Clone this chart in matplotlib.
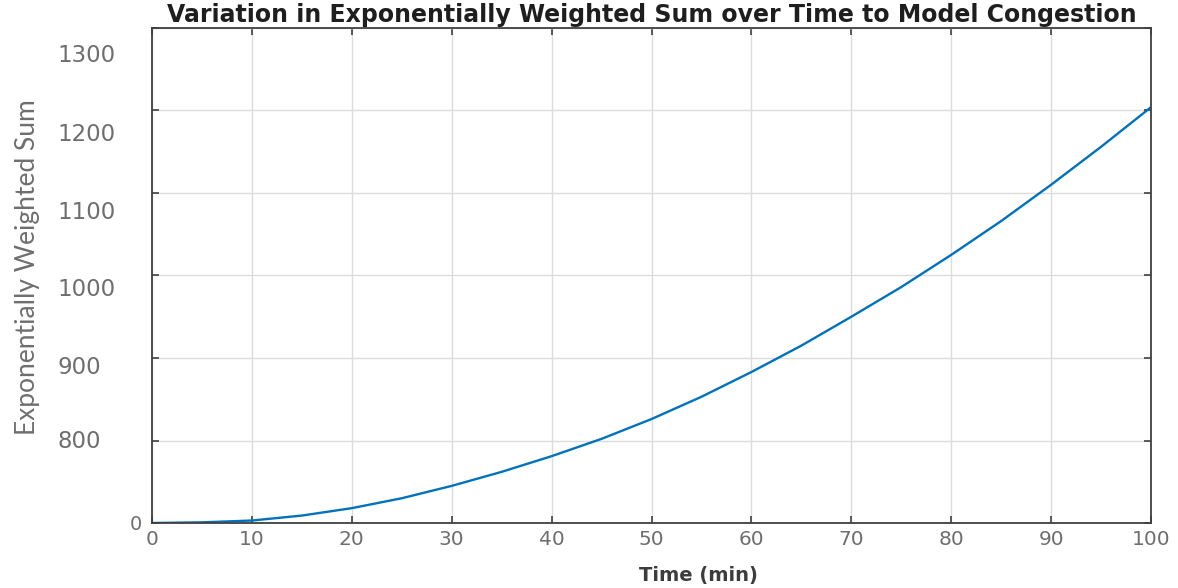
# Exponentially weighted sum over time (congestion model) -- recreated figure

import matplotlib
matplotlib.use("Agg")
import matplotlib.pyplot as plt
from matplotlib.transforms import ScaledTranslation

# data (y in axis units, the bottom of the axis is labelled "0")
time_min = [0, 5, 10, 15, 20, 25, 30, 35, 40, 45, 50,
            55, 60, 65, 70, 75, 80, 85, 90, 95, 100]
ew_sum = [700, 700.8, 703, 709, 718, 730, 745, 762, 781, 802, 826,
          853, 883, 915, 950, 986, 1025, 1066, 1110, 1156, 1204]

x_ticks = [0, 10, 20, 30, 40, 50, 60, 70, 80, 90, 100]
y_ticks = [700, 800, 900, 1000, 1100, 1200, 1300]
y_tick_labels = ["0", "800", "900", "1000", "1100", "1200", "1300"]

# the y labels in the reference sit a little below their grid lines (pixels)
label_drop_px = [0, -1, 7, 12, 17, 22, 25]

spine_col = "#404040"
gray_txt = "#6e6e6e"

fig = plt.figure(figsize=(11.78, 5.88), dpi=100)
ax = fig.add_axes([152 / 1178, 65 / 588, 999 / 1178, 495 / 588])

ax.plot(time_min, ew_sum, color="#0072BD", lw=1.7, solid_capstyle="round")

ax.set_xlim(0, 100)
ax.set_ylim(700, 1300)
ax.set_xticks(x_ticks)
ax.set_yticks(y_ticks, y_tick_labels)

ax.grid(True, color="#dcdcdc", lw=1.0)
ax.set_axisbelow(True)
for sp in ax.spines.values():
    sp.set_color(spine_col)
    sp.set_linewidth(1.3)

ax.tick_params(direction="in", top=True, right=True, length=5, width=1.2,
               color=spine_col)
ax.tick_params(axis="x", labelsize=14.5, labelcolor=gray_txt, pad=5)
ax.tick_params(axis="y", labelsize=16.5, labelcolor=gray_txt, pad=7)

# move the y labels like in the picture: left aligned at one x, "0" stays small near the axis
for tick, drop in zip(ax.yaxis.get_major_ticks(), label_drop_px):
    lab = tick.label1
    if lab.get_text() == "0":
        lab.set_fontsize(14)
        lab.set_transform(lab.get_transform() +
                          ScaledTranslation(0.0, -drop / 100, fig.dpi_scale_trans))
    else:
        lab.set_horizontalalignment("left")
        lab.set_transform(lab.get_transform() +
                          ScaledTranslation(-85 / 100, -drop / 100, fig.dpi_scale_trans))

ax.set_title("Variation in Exponentially Weighted Sum over Time to Model Congestion",
             fontsize=17, fontweight="bold", color="#1e1e1e", pad=4)

ax.set_xlabel("Time (min)", fontsize=14, fontweight="bold", color="#3c3c3c")
ax.xaxis.set_label_coords(0.547, -0.086)
ax.set_ylabel("Exponentially Weighted Sum", fontsize=19, color=gray_txt,
              family=["Lato", "DejaVu Sans"])
ax.yaxis.set_label_coords(-0.112, 0.517)

fig.savefig("out.png", dpi=100)
